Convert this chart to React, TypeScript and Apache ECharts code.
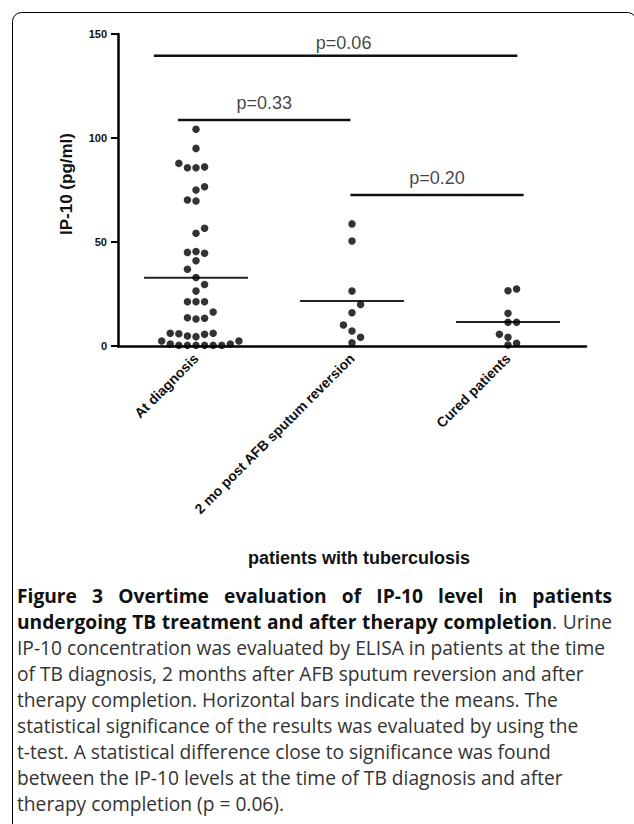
import React, { useEffect, useRef } from 'react';
import * as echarts from 'echarts';

// ---- data ----
const categories = ['At diagnosis', '2 mo post AFB sputum reversion', 'Cured patients'];

const atDiagnosis = [
  104.2, 95.0, 87.8, 85.7, 85.7, 86.1, 76.6, 75.0, 70.2, 69.7, 56.6, 54.2,
  45.0, 45.4, 44.6, 41.0, 36.9, 32.9, 29.6, 26.4, 21.3, 21.3, 21.3, 16.3,
  13.6, 13.0, 13.3, 6.1, 5.9, 4.8, 4.5, 5.6, 6.1,
  2.4, 1.0, 0.3, 0.3, 0.3, 0.3, 0.3, 0.3, 1.0, 2.4,
];
const atDiagnosisSlots = [
  0, 0, -2, -1, 0, 1, 1, 0, -1, 0, 1, 0,
  -1, 0, 1, 0, -1, 0, 1, 0, -1, 0, 1, 2,
  -1, 0, 1, -3, -2, -1, 0, 1, 2,
  -4, -3, -2, -1, 0, 1, 2, 3, 4, 5,
];

const twoMonths = [58.7, 50.5, 26.4, 20.0, 16.0, 10.1, 7.2, 4.2, 1.6];
const twoMonthsSlots = [0, 0, 0, 1, 0, -1, 0, 1, 0];

const cured = [26.6, 27.4, 15.7, 11.4, 11.4, 5.6, 4.2, 0.5, 1.3];
const curedSlots = [0, 1, 0, 0, 1, -1, 0, 0, 1];

const yTicks = [0, 50, 100, 150];

const sigLabels = ['p=0.06', 'p=0.33', 'p=0.20'];
const sigHeights = [139.6, 108.7, 72.6];
const sigFrom = [0.23, 0.385, 1.49];
const sigTo = [2.56, 1.49, 2.6];

const captionLines: [string, boolean][][][] = [
  [[['Figure', true]], [['3', true]], [['Overtime', true]], [['evaluation', true]], [['of', true]], [['IP-10', true]], [['level', true]], [['in', true]], [['patients', true]]],
  [[['undergoing', true]], [['TB', true]], [['treatment', true]], [['and', true]], [['after', true]], [['therapy', true]], [['completion', true], ['.', false]], [['Urine', false]]],
];
const captionPlain = [
  'IP-10 concentration was evaluated by ELISA in patients at the time',
  'of TB diagnosis, 2 months after AFB sputum reversion and after',
  'therapy completion. Horizontal bars indicate the means. The',
  'statistical significance of the results was evaluated by using the',
  't-test. A statistical difference close to significance was found',
  'between the IP-10 levels at the time of TB diagnosis and after',
  'therapy completion (p = 0.06).',
];

const FONT = 'Liberation Sans, Arial, Helvetica, sans-serif';
const CAP_FONT = 'Open Sans, Noto Sans, sans-serif';

const groups = [atDiagnosis, twoMonths, cured];
const groupSlots = [atDiagnosisSlots, twoMonthsSlots, curedSlots];
const SLOT = 0.055;
const MEAN_HALF = 0.333;

const mean = (a: number[]) => a.reduce((s, v) => s + v, 0) / a.length;

export default function App() {
  const ref = useRef<HTMLDivElement>(null);
  useEffect(() => {
    if (!ref.current) return;
    const chart = echarts.init(ref.current, undefined, { renderer: 'svg' });

    const canvas = document.createElement('canvas');
    const ctx = canvas.getContext('2d')!;
    const fontAt = (size: number, bold: boolean) => `${bold ? 'bold ' : ''}${size}px ${CAP_FONT}`;
    ctx.font = fontAt(16, false);
    const refW = ctx.measureText(captionPlain[0]).width || 490;
    const capSize = Math.round(Math.min(20, Math.max(15, (16 * 588) / refW)) * 10) / 10;
    const fontStr = (bold: boolean) => fontAt(capSize, bold);
    const measure = (t: string, bold: boolean) => {
      ctx.font = fontStr(bold);
      return ctx.measureText(t).width;
    };

    const capLeft = 17;
    const capRight = 612;
    const baseY = 605;
    const lineH = 26;
    const graphic: any[] = [];

    // frame
    graphic.push({
      type: 'rect',
      shape: { x: 12.5, y: 12.5, width: 624, height: 900, r: 9 },
      style: { fill: 'none', stroke: '#000', lineWidth: 1 },
      silent: true,
    });

    captionLines.forEach((words, li) => {
      const widths = words.map((w) => w.reduce((s, [t, b]) => s + measure(t, b), 0));
      const total = widths.reduce((s, v) => s + v, 0);
      const gap = (capRight - capLeft - total) / (words.length - 1);
      let x = capLeft;
      words.forEach((w, wi) => {
        let sx = x;
        w.forEach(([t, b]) => {
          graphic.push({
            type: 'text',
            x: sx,
            y: baseY + li * lineH,
            style: {
              text: t,
              font: fontStr(b),
              fill: b ? '#111' : '#333',
              textAlign: 'left',
              textVerticalAlign: 'bottom',
            },
            silent: true,
          });
          sx += measure(t, b);
        });
        x += widths[wi] + gap;
      });
    });
    captionPlain.forEach((t, i) => {
      graphic.push({
        type: 'text',
        x: capLeft,
        y: baseY + (i + 2) * lineH,
        style: {
          text: t,
          font: fontStr(false),
          fill: '#333',
          textAlign: 'left',
          textVerticalAlign: 'bottom',
        },
        silent: true,
      });
    });

    const labelOffsets = [[8, 4], [0, 0], [0, 0]];

    const series: any[] = [];
    groups.forEach((vals, gi) => {
      series.push({
        type: 'scatter',
        xAxisIndex: 1,
        yAxisIndex: 0,
        symbol: 'circle',
        symbolSize: 7.5,
        itemStyle: { color: '#000' },
        data: vals.map((v, k) => [gi + 0.5 + groupSlots[gi][k] * SLOT, v]),
        z: 3,
      });
      const m = mean(vals);
      series.push({
        type: 'line',
        xAxisIndex: 1,
        yAxisIndex: 0,
        symbol: 'none',
        lineStyle: { color: '#222', width: 2 },
        data: [
          [gi + 0.5 - MEAN_HALF, m],
          [gi + 0.5 + MEAN_HALF, m],
        ],
        z: 2,
      });
    });
    sigLabels.forEach((lab, i) => {
      series.push({
        type: 'line',
        xAxisIndex: 1,
        yAxisIndex: 0,
        symbol: 'none',
        lineStyle: { color: '#111', width: 2.5 },
        data: [
          [sigFrom[i], sigHeights[i]],
          [sigTo[i], sigHeights[i]],
        ],
      });
      series.push({
        type: 'scatter',
        xAxisIndex: 1,
        yAxisIndex: 0,
        symbolSize: 0,
        data: [[(sigFrom[i] + sigTo[i]) / 2, sigHeights[i]]],
        label: {
          show: true,
          position: 'top',
          distance: 8,
          offset: labelOffsets[i],
          formatter: lab,
          fontFamily: FONT,
          fontSize: 18,
          color: '#111',
        },
      });
    });

    chart.setOption({
      animation: false,
      backgroundColor: '#fff',
      grid: { left: 118, right: 48, top: 34, bottom: 478, containLabel: false },
      xAxis: [
        {
          type: 'category',
          data: categories,
          boundaryGap: true,
          axisLine: { lineStyle: { color: '#000', width: 2.5 } },
          axisTick: { alignWithLabel: true, length: 6, lineStyle: { color: '#000', width: 2 } },
          axisLabel: {
            rotate: 45,
            interval: 0,
            margin: 10,
            fontFamily: FONT,
            fontWeight: 'bold',
            fontSize: 14,
            color: '#111',
          },
          splitLine: { show: false },
          name: 'patients with tuberculosis',
          nameLocation: 'middle',
          nameGap: 203,
          nameTextStyle: {
            fontFamily: FONT,
            fontWeight: 'bold',
            fontSize: 18,
            color: '#111',
            padding: [0, 0, 0, 14],
          },
        },
        { type: 'value', min: 0, max: 3, show: false },
      ],
      yAxis: {
        type: 'value',
        min: yTicks[0],
        max: yTicks[yTicks.length - 1],
        interval: yTicks[1] - yTicks[0],
        axisLine: { show: true, lineStyle: { color: '#000', width: 2.5 } },
        axisTick: { show: true, length: 7, lineStyle: { color: '#000', width: 2 } },
        splitLine: { show: false },
        axisLabel: { fontFamily: FONT, fontWeight: 'bold', fontSize: 11, color: '#111', margin: 11 },
        name: 'IP-10 (pg/ml)',
        nameLocation: 'middle',
        nameGap: 43,
        nameTextStyle: {
          fontFamily: FONT,
          fontWeight: 'bold',
          fontSize: 17,
          color: '#111',
          padding: [0, 0, 0, 12],
        },
      },
      series,
      graphic,
    });
    return () => chart.dispose();
  }, []);
  return (
    <div
      ref={ref}
      style={{ position: 'absolute', left: 0, top: 0, width: 634, height: 824 }}
    />
  );
}
